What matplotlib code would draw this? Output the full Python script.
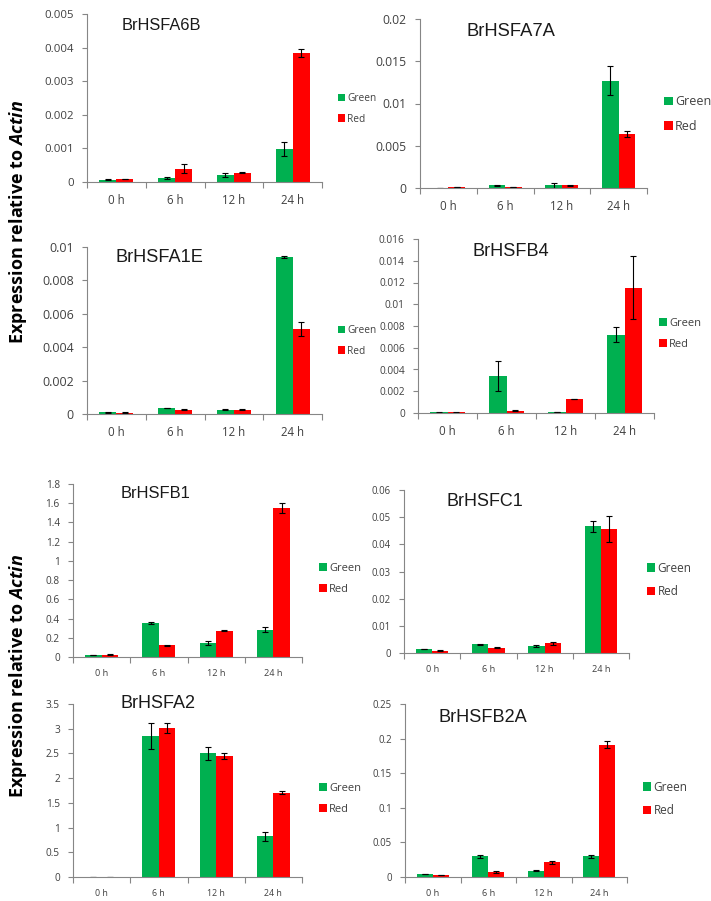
import numpy as np
import matplotlib
matplotlib.use("Agg")
import matplotlib.pyplot as plt

plt.rcParams['font.family'] = ['Open Sans', 'DejaVu Sans']
plt.rcParams['mathtext.fontset'] = 'custom'
plt.rcParams['mathtext.it'] = 'Open Sans:italic:bold'
plt.rcParams['mathtext.rm'] = 'Open Sans:bold'

times = ["0 h", "6 h", "12 h", "24 h"]
genes = ["BrHSFA6B", "BrHSFA7A", "BrHSFA1E", "BrHSFB4",
         "BrHSFB1", "BrHSFC1", "BrHSFA2", "BrHSFB2A"]

# mean expression and error, Green / Red
a6b_green = [0.00007, 0.00012, 0.0002, 0.00098]
a6b_green_err = [0.00001, 0.00004, 0.00006, 0.0002]
a6b_red = [0.00009, 0.0004, 0.00028, 0.00385]
a6b_red_err = [0.00001, 0.00013, 0.00002, 0.00012]

a7a_green = [0.0, 0.0003, 0.0003, 0.0127]
a7a_green_err = [0.0, 0.0001, 0.0003, 0.0017]
a7a_red = [0.0001, 0.0001, 0.0003, 0.0064]
a7a_red_err = [0.00002, 0.00002, 0.00005, 0.0004]

a1e_green = [0.0001, 0.00035, 0.00025, 0.0094]
a1e_green_err = [0.00003, 0.00002, 0.00002, 0.00005]
a1e_red = [0.00008, 0.00025, 0.00025, 0.0051]
a1e_red_err = [0.00001, 0.00002, 0.00003, 0.0004]

b4_green = [0.00005, 0.0034, 0.0001, 0.0072]
b4_green_err = [0.00001, 0.0014, 0.00001, 0.0007]
b4_red = [0.00005, 0.0002, 0.0013, 0.0115]
b4_red_err = [0.00001, 0.00005, 0.00003, 0.0029]

b1_green = [0.02, 0.355, 0.145, 0.285]
b1_green_err = [0.003, 0.012, 0.02, 0.03]
b1_red = [0.025, 0.12, 0.275, 1.55]
b1_red_err = [0.005, 0.005, 0.005, 0.05]

c1_green = [0.0015, 0.0032, 0.0025, 0.0467]
c1_green_err = [0.0001, 0.0001, 0.0003, 0.002]
c1_red = [0.0009, 0.002, 0.0035, 0.0455]
c1_red_err = [0.0002, 0.0002, 0.0005, 0.0048]

a2_green = [0.0, 2.85, 2.5, 0.82]
a2_green_err = [0.0, 0.27, 0.13, 0.09]
a2_red = [0.0, 3.02, 2.44, 1.7]
a2_red_err = [0.0, 0.1, 0.06, 0.03]

b2a_green = [0.004, 0.03, 0.009, 0.03]
b2a_green_err = [0.0003, 0.002, 0.0005, 0.002]
b2a_red = [0.003, 0.007, 0.021, 0.191]
b2a_red_err = [0.0003, 0.001, 0.002, 0.005]

ymax = [0.005, 0.02, 0.01, 0.016, 1.8, 0.06, 3.5, 0.25]
ystep = [0.001, 0.005, 0.002, 0.002, 0.2, 0.01, 0.5, 0.05]

series = [
    (a6b_green, a6b_green_err, a6b_red, a6b_red_err),
    (a7a_green, a7a_green_err, a7a_red, a7a_red_err),
    (a1e_green, a1e_green_err, a1e_red, a1e_red_err),
    (b4_green, b4_green_err, b4_red, b4_red_err),
    (b1_green, b1_green_err, b1_red, b1_red_err),
    (c1_green, c1_green_err, c1_red, c1_red_err),
    (a2_green, a2_green_err, a2_red, a2_red_err),
    (b2a_green, b2a_green_err, b2a_red, b2a_red_err),
]

W, H = 711, 901
# layout in pixels: axis left, right, top, bottom
boxes = [(87, 322, 14, 182), (420, 647, 19, 188),
         (87, 322, 247, 414), (418, 654, 239, 413),
         (73, 302, 484, 657), (404, 629, 490, 653),
         (73, 302, 704, 877), (405, 627, 704, 877)]
titles_xy = [(122, 26), (467, 31), (116, 257), (473, 251),
             (121, 493), (446, 502), (121, 704), (439, 717)]
title_fs = [11.8, 13.2, 13.1, 13.1, 11.9, 12.9, 13.0, 13.1]
leg_xy = [(338, 109), (664, 114), (338, 341), (659, 334),
          (319, 579), (647, 580), (319, 799), (643, 799)]
leg_fs = [7.3, 9, 7.3, 8, 8, 8.5, 8, 8.5]
ytick_fs = [8.2, 8.7, 8.9, 7.3, 7.2, 6.9, 7.2, 6.9]
xtick_fs = [8.3, 8.3, 8.3, 8.3, 6.6, 6.6, 6.4, 6.6]

green = '#00B050'
red = '#FF0000'
txtcol = '#404040'
axcol = '#868686'

fig = plt.figure(figsize=(W / 100, H / 100), dpi=100)

x = np.arange(len(times)) + 0.5
bw = 0.29

for i in range(8):
    l, r, t, b = boxes[i]
    ax = fig.add_axes([l / W, 1 - b / H, (r - l) / W, (b - t) / H])
    g, ge, rd, re_ = series[i]
    hg = ax.bar(x - bw / 2, g, bw, color=green, label='Green',
                yerr=ge, error_kw=dict(ecolor='black', elinewidth=0.8, capsize=2.5, capthick=0.8))
    hr = ax.bar(x + bw / 2, rd, bw, color=red, label='Red',
                yerr=re_, error_kw=dict(ecolor='black', elinewidth=0.8, capsize=2.5, capthick=0.8))
    ax.set_xlim(0, 4)
    ax.set_ylim(0, ymax[i])
    yt = np.arange(0, ymax[i] + ystep[i] / 2, ystep[i])
    ax.set_yticks(yt)
    ax.set_yticklabels([('%g' % v) for v in np.round(yt, 4)])
    ax.set_xticks([0, 1, 2, 3, 4])
    ax.set_xticklabels([])
    ax.set_xticks(x, minor=True)
    ax.set_xticklabels(times, minor=True)
    ax.tick_params(axis='x', which='major', length=4, color=axcol, width=0.8)
    ax.tick_params(axis='x', which='minor', length=0, pad=9, labelsize=xtick_fs[i], labelcolor=txtcol)
    ax.tick_params(axis='y', length=3.5, color=axcol, width=0.8, pad=6, labelsize=ytick_fs[i], labelcolor=txtcol)
    for s in ['top', 'right']:
        ax.spines[s].set_visible(False)
    for s in ['left', 'bottom']:
        ax.spines[s].set_color(axcol)
        ax.spines[s].set_linewidth(0.8)
    tx, ty = titles_xy[i]
    fig.text(tx / W, 1 - ty / H, genes[i], fontsize=title_fs[i], family='Liberation Sans',
             ha='left', va='center', color='#1a1a1a')
    lx, ly = leg_xy[i]
    ax.legend(handles=[hg, hr], loc='center left', bbox_to_anchor=(lx / W, 1 - ly / H),
              bbox_transform=fig.transFigure, frameon=False, fontsize=leg_fs[i],
              handlelength=0.7, handleheight=0.7, handletextpad=0.2, labelspacing=0.9,
              borderpad=0, borderaxespad=0, labelcolor=txtcol)

ylab = r"Expression relative to $\mathit{Actin}$"
fig.text(18 / W, 1 - 222 / H, ylab, rotation=90, fontsize=13, fontweight='bold',
         ha='center', va='center', color='black')
fig.text(18 / W, 1 - 676 / H, ylab, rotation=90, fontsize=13, fontweight='bold',
         ha='center', va='center', color='black')

fig.savefig('out.png', dpi=100)
